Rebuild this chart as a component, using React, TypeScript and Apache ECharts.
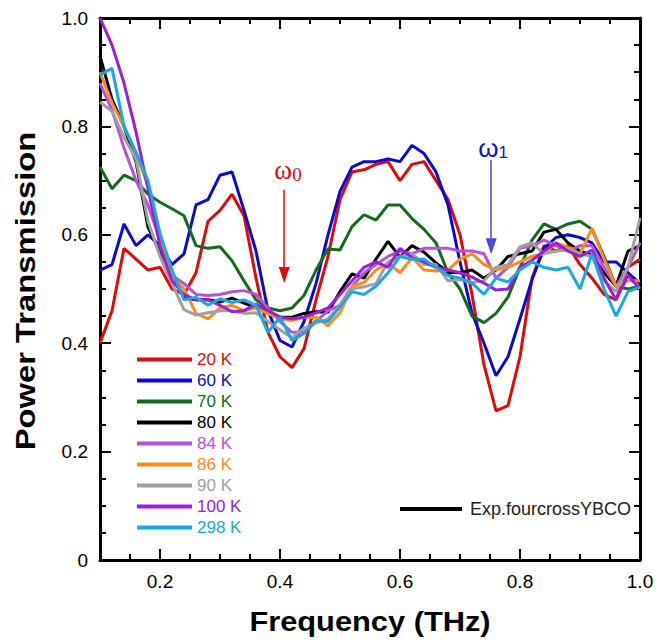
import React, { useEffect, useRef } from 'react';
import * as echarts from 'echarts';

const freq = [0.10,0.12,0.14,0.16,0.18,0.20,0.22,0.24,0.26,0.28,0.30,0.32,0.34,0.36,0.38,0.40,0.42,0.44,0.46,0.48,0.50,0.52,0.54,0.56,0.58,0.60,0.62,0.64,0.66,0.68,0.70,0.72,0.74,0.76,0.78,0.80,0.82,0.84,0.86,0.88,0.90,0.92,0.94,0.96,0.98,1.00];

const t20 = [0.40,0.46,0.575,0.555,0.535,0.54,0.50,0.49,0.53,0.625,0.645,0.675,0.635,0.52,0.42,0.375,0.355,0.39,0.48,0.56,0.665,0.716,0.72,0.73,0.735,0.70,0.73,0.735,0.70,0.665,0.60,0.49,0.36,0.275,0.285,0.375,0.52,0.58,0.57,0.58,0.545,0.52,0.49,0.48,0.54,0.555];
const t60 = [0.535,0.545,0.62,0.58,0.60,0.58,0.545,0.565,0.655,0.665,0.71,0.716,0.645,0.57,0.46,0.405,0.393,0.44,0.51,0.60,0.68,0.725,0.735,0.735,0.74,0.735,0.765,0.75,0.716,0.655,0.55,0.455,0.40,0.34,0.375,0.445,0.517,0.575,0.595,0.60,0.595,0.585,0.55,0.55,0.53,0.51];
const t70 = [0.725,0.685,0.71,0.70,0.675,0.66,0.648,0.635,0.58,0.575,0.578,0.552,0.515,0.48,0.465,0.46,0.465,0.488,0.535,0.574,0.572,0.615,0.637,0.627,0.655,0.655,0.63,0.61,0.585,0.53,0.50,0.45,0.438,0.455,0.485,0.54,0.59,0.62,0.61,0.62,0.625,0.61,0.56,0.505,0.50,0.505];
const t80 = [0.93,0.85,0.80,0.735,0.614,0.567,0.53,0.483,0.48,0.48,0.476,0.483,0.474,0.465,0.458,0.448,0.448,0.455,0.458,0.457,0.495,0.528,0.52,0.555,0.588,0.559,0.58,0.568,0.548,0.531,0.53,0.535,0.52,0.535,0.56,0.565,0.57,0.605,0.61,0.585,0.57,0.563,0.53,0.505,0.57,0.58];
const t84 = [0.88,0.83,0.76,0.70,0.655,0.59,0.525,0.51,0.49,0.488,0.49,0.495,0.497,0.49,0.465,0.44,0.42,0.42,0.44,0.46,0.47,0.505,0.53,0.545,0.56,0.57,0.565,0.575,0.575,0.575,0.57,0.57,0.565,0.52,0.54,0.575,0.58,0.59,0.58,0.57,0.58,0.58,0.54,0.505,0.54,0.585];
const t86 = [0.90,0.843,0.80,0.75,0.69,0.59,0.525,0.50,0.455,0.445,0.465,0.47,0.46,0.465,0.455,0.445,0.442,0.448,0.448,0.432,0.456,0.505,0.512,0.535,0.548,0.53,0.558,0.535,0.533,0.535,0.555,0.565,0.545,0.535,0.54,0.55,0.56,0.565,0.585,0.577,0.565,0.612,0.555,0.505,0.515,0.515];
const t90 = [0.845,0.828,0.78,0.74,0.625,0.56,0.51,0.462,0.452,0.456,0.46,0.46,0.455,0.456,0.44,0.425,0.41,0.428,0.437,0.445,0.47,0.50,0.504,0.51,0.55,0.56,0.565,0.545,0.545,0.515,0.517,0.512,0.515,0.54,0.545,0.578,0.585,0.565,0.57,0.572,0.565,0.56,0.515,0.495,0.54,0.631];
const t100 = [1.0,0.95,0.88,0.79,0.685,0.58,0.515,0.49,0.48,0.48,0.47,0.458,0.46,0.472,0.46,0.448,0.445,0.448,0.456,0.465,0.49,0.515,0.54,0.55,0.54,0.575,0.558,0.55,0.54,0.535,0.53,0.522,0.511,0.498,0.50,0.54,0.553,0.57,0.585,0.57,0.56,0.572,0.52,0.48,0.525,0.50];
const t298 = [0.895,0.907,0.80,0.752,0.70,0.603,0.535,0.48,0.485,0.47,0.482,0.475,0.48,0.47,0.42,0.448,0.405,0.418,0.442,0.44,0.467,0.495,0.49,0.505,0.53,0.56,0.555,0.555,0.54,0.525,0.52,0.511,0.49,0.52,0.513,0.535,0.55,0.54,0.535,0.54,0.50,0.565,0.50,0.45,0.495,0.504];

const seriesNames = ['20 K','60 K','70 K','80 K','84 K','86 K','90 K','100 K','298 K'];
const seriesValues = [t20,t60,t70,t80,t84,t86,t90,t100,t298];
const seriesColors = ['#e00a0a','#0a0ad0','#136b1e','#000000','#b552d9','#ff8c1a','#a0a0a0','#9a1fd6','#18a9e3'];

const xMajor = [0.2,0.4,0.6,0.8,1.0];
const refName = 'Exp.fourcrossYBCO';
const xTitle = 'Frequency (THz)';
const yTitle = 'Power Transmission';

// annotation arrows (data coordinates)
const omega0 = { f: 0.407, from: 0.683, to: 0.526 };
const omega1 = { f: 0.752, from: 0.738, to: 0.579 };

const FONT = 'Liberation Sans';

export default function App() {
  const ref = useRef<HTMLDivElement>(null);
  useEffect(() => {
    document.body.style.margin = '0';
    const chart = echarts.init(ref.current!, null, { renderer: 'svg' });
    const axisLine = { show: true, lineStyle: { color: '#000', width: 3 } };
    const tickStyle = { color: '#000', width: 2 };
    const minorX = (pos: string) => ({
      type: 'value', position: pos, min: 0.1, max: 1.0, interval: 0.05,
      axisLine, axisTick: { show: true, inside: true, length: 6, lineStyle: tickStyle },
      axisLabel: { show: false }, splitLine: { show: false },
    });
    const majorXAxis = (pos: string, labels: boolean) => ({
      type: 'value', position: pos, min: 0.1, max: 1.0,
      axisLine: { show: false },
      axisTick: { show: true, inside: true, length: 11, customValues: xMajor, lineStyle: tickStyle },
      axisLabel: labels ? { show: true, customValues: xMajor, formatter: (v: number) => v.toFixed(1), fontSize: 19, fontFamily: FONT, color: '#000', margin: 12 } : { show: false },
      splitLine: { show: false },
    });
    const yAx = (pos: string, labels: boolean) => ({
      type: 'value', position: pos, min: 0, max: 1, interval: 0.2,
      axisLine, axisTick: { show: true, inside: true, length: 11, lineStyle: tickStyle },
      minorTick: { show: true, splitNumber: 4, length: 6, lineStyle: tickStyle },
      axisLabel: labels ? { show: true, formatter: (v: number) => (v === 0 ? '0' : v.toFixed(1)), fontSize: 19, fontFamily: FONT, color: '#000', margin: 12 } : { show: false },
      splitLine: { show: false }, minorSplitLine: { show: false },
    });

    const lines: any[] = seriesNames.map((name, i) => ({
      name, type: 'line', xAxisIndex: 0, yAxisIndex: 0,
      data: freq.map((f, j) => [f, seriesValues[i][j]]),
      showSymbol: false, symbol: 'none',
      color: seriesColors[i],
      lineStyle: { width: 3, color: seriesColors[i] },
      itemStyle: { color: seriesColors[i] },
      z: 2 + i,
    }));
    lines[0].markLine = {
      silent: true, symbol: ['none', 'triangle'], symbolSize: [11, 16],
      label: { show: false },
      lineStyle: { color: '#e00a0a', width: 1.5, type: 'solid' },
      data: [[{ coord: [omega0.f, omega0.from] }, { coord: [omega0.f, omega0.to] }]],
    };
    lines[1].markLine = {
      silent: true, symbol: ['none', 'triangle'], symbolSize: [11, 16],
      label: { show: false },
      lineStyle: { color: '#4a4ae0', width: 1.5, type: 'solid' },
      itemStyle: { color: '#1414d0' },
      data: [[{ coord: [omega1.f, omega1.from] }, { coord: [omega1.f, omega1.to] }]],
    };
    lines.push({
      name: refName, type: 'line', data: [], color: '#000',
      lineStyle: { width: 3, color: '#000' }, itemStyle: { color: '#000' },
    });

    const titleFont = 'bold 28px "Liberation Sans"';

    chart.setOption({
      animation: false,
      grid: { left: 100, right: 32, top: 18, bottom: 82, containLabel: false, outerBoundsMode: 'none' },
      xAxis: [minorX('bottom'), majorXAxis('bottom', true), minorX('top'), majorXAxis('top', false)],
      yAxis: [yAx('left', true), yAx('right', false)],
      legend: [
        {
          orient: 'vertical', left: 132, top: 346, itemWidth: 55, itemHeight: 4, itemGap: 4,
          icon: 'rect', selectedMode: false,
          textStyle: { fontSize: 17, fontFamily: FONT, lineHeight: 16 },
          data: seriesNames.map((n, i) => ({ name: n, textStyle: { color: seriesColors[i] } })),
        },
        {
          left: 395, top: 495, itemWidth: 62, itemHeight: 4, icon: 'rect', selectedMode: false,
          textStyle: { fontSize: 18, fontFamily: FONT, color: '#222', lineHeight: 16, padding: [0, 0, 0, 3] },
          data: [refName],
        },
      ],
      graphic: [
        {
          type: 'text', x: 370, y: 621, scaleX: 1.1,
          style: { text: xTitle, font: titleFont, fill: '#000', align: 'center', verticalAlign: 'middle' },
        },
        {
          type: 'text', x: 25, y: 291, rotation: Math.PI / 2, scaleX: 1.17,
          style: { text: yTitle, font: titleFont, fill: '#000', align: 'center', verticalAlign: 'middle' },
        },
        {
          type: 'text', x: 288, y: 170,
          style: {
            text: '{w|ω}{s|0}', align: 'center', verticalAlign: 'middle',
            rich: {
              w: { fontFamily: 'Liberation Serif', fontSize: 27, fill: '#e00a0a', color: '#e00a0a', verticalAlign: 'bottom' },
              s: { fontFamily: 'Liberation Serif', fontSize: 19, fill: '#e00a0a', color: '#e00a0a', verticalAlign: 'bottom' },
            },
          },
        },
        {
          type: 'text', x: 493, y: 148,
          style: {
            text: '{w|ω}{s|1}', align: 'center', verticalAlign: 'middle',
            rich: {
              w: { fontFamily: FONT, fontSize: 26, fill: '#1414d0', color: '#1414d0', verticalAlign: 'bottom' },
              s: { fontFamily: FONT, fontSize: 17, fill: '#1414d0', color: '#1414d0', verticalAlign: 'bottom' },
            },
          },
        },
      ],
      series: lines,
    });
    return () => chart.dispose();
  }, []);
  return <div ref={ref} style={{ width: 672, height: 642 }} />;
}
